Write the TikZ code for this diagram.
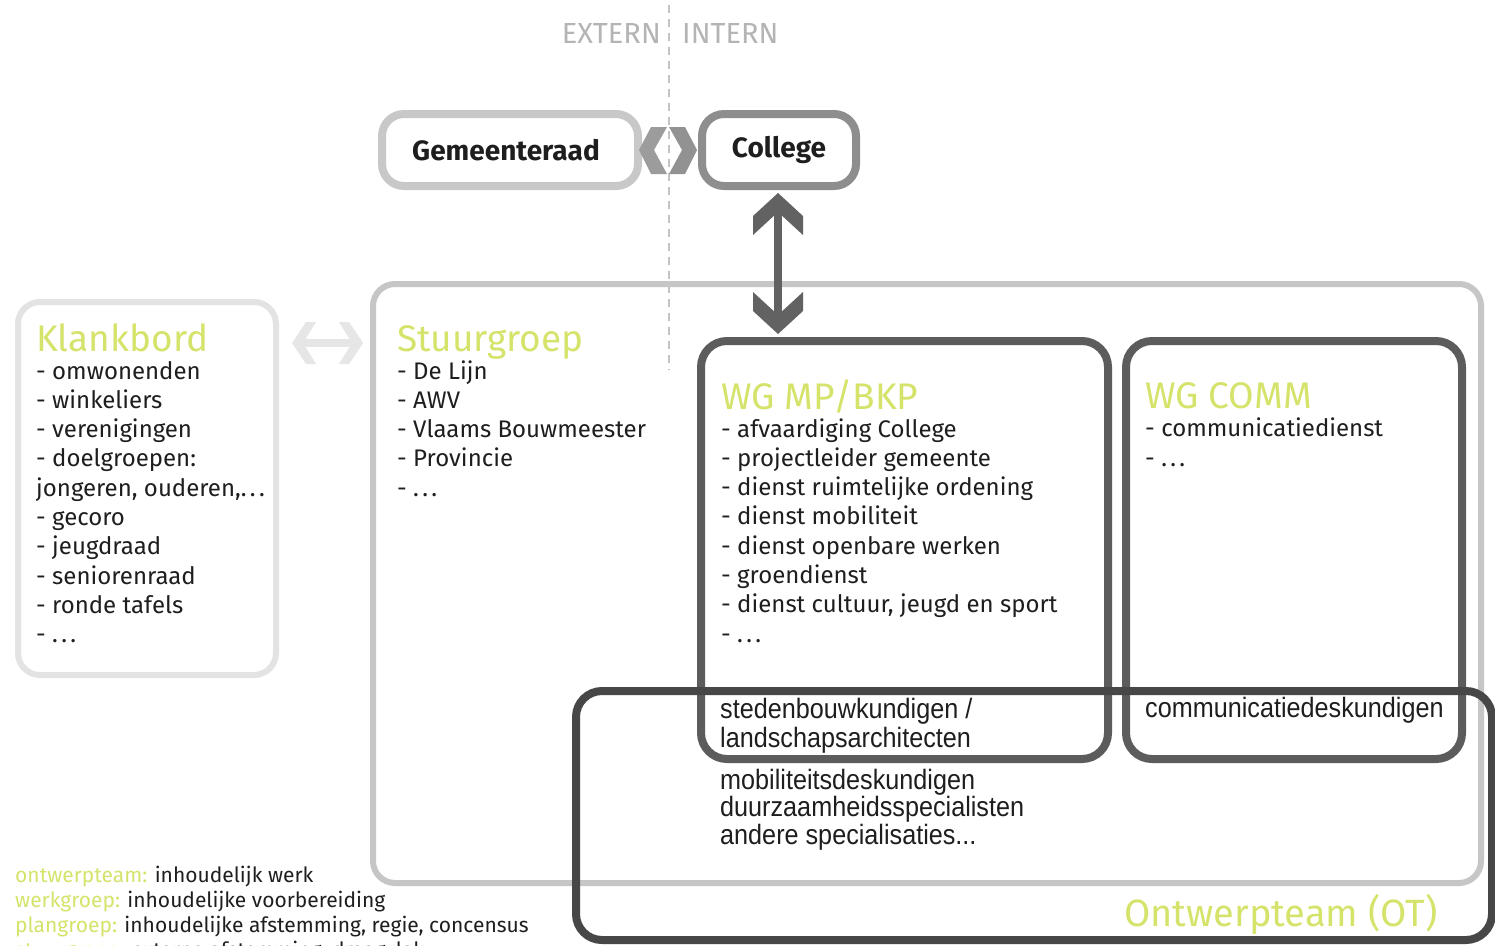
\documentclass[tikz,border=0pt]{standalone}
\usepackage{fontspec}
\setmainfont{Fira Sans}
\newfontfamily\narrowfont[FakeStretch=0.9]{Liberation Sans}
\usetikzlibrary{calc}
\definecolor{lime}{HTML}{D6E36A}
\definecolor{paleline}{HTML}{E3E3E3}
\definecolor{lightline}{HTML}{C6C6C6}
\definecolor{gemline}{HTML}{C8C8C8}
\definecolor{colline}{HTML}{8E8E8E}
\definecolor{wgline}{HTML}{5C5C5C}
\definecolor{otline}{HTML}{474747}
\definecolor{chevron}{HTML}{9C9C9C}
\definecolor{arrowdark}{HTML}{626262}
\definecolor{palearrow}{HTML}{E6E6E6}
\definecolor{sidetext}{HTML}{B4B4B4}
\definecolor{ink}{HTML}{1E1E1E}
\newcommand\ddd{.\hspace{0.14em}.\hspace{0.14em}.}
\tikzset{
  frame/.style={draw, rounded corners=22pt, inner sep=0pt, fill=none},
  item/.style={anchor=base west, inner sep=0pt, text=ink,
    font=\fontsize{24}{28}\selectfont},
  heading/.style={anchor=base west, inner sep=0pt, text=lime,
    font=\fontsize{37}{40}\selectfont},
  expert/.style={anchor=base west, inner sep=0pt, text=ink,
    font=\narrowfont\fontsize{28}{30}\selectfont},
  legend/.style={anchor=base west, inner sep=0pt, text=ink,
    font=\fontsize{21}{24}\selectfont},
  titletext/.style={inner sep=0pt, text=ink,
    font=\bfseries\fontsize{28}{30}\selectfont},
  sidelabel/.style={inner sep=0pt, text=sidetext,
    font=\fontsize{29}{30}\selectfont},
}
\begin{document}
\begin{tikzpicture}[x=1pt,y=-1pt]
\useasboundingbox[fill=white] (0,0) rectangle (1495,945);

% extern / intern divider
\coordinate (divtop) at (669,5);
\coordinate (divbot) at (669,370);
\draw[sidetext!80, line width=2pt, dash pattern=on 8pt off 6pt] (divtop) -- (divbot);
\node[sidelabel, anchor=east] (extern) at (661,34) {EXTERN};
\node[sidelabel, anchor=west] (intern) at (682,34) {INTERN};

% large frames
\node[frame, draw=lightline, line width=6pt, minimum width=1108pt, minimum height=599pt] (stuur) at (927,583.5) {};
\node[frame, draw=paleline, line width=6pt, minimum width=258pt, minimum height=373pt] (klank) at (147,488.5) {};
\node[frame, draw=wgline, line width=8pt, rounded corners=26pt, minimum width=407pt, minimum height=418pt] (wgmp) at (904.5,550) {};
\node[frame, draw=wgline, line width=8pt, rounded corners=26pt, minimum width=336pt, minimum height=418pt] (wgcomm) at (1294,550) {};
\node[frame, draw=otline, line width=8pt, rounded corners=26pt, minimum width=916pt, minimum height=249pt] (ot) at (1034,815.5) {};

% top boxes
\node[frame, draw=gemline, line width=8pt, minimum width=256pt, minimum height=72pt] (gem) at (510,150) {};
\node[titletext] (gemtxt) at (506,150) {Gemeenteraad};
\node[frame, draw=colline, line width=8pt, minimum width=154pt, minimum height=72pt] (col) at (779,150) {};
\node[titletext] (coltxt) at (779,150) {College};

% chevrons between Gemeenteraad and College
\fill[chevron] ($(gem.east)+(-3,0)$) -- ++(12,-23) -- ++(16,0) -- ++(-13,23) -- ++(13,24) -- ++(-16,0) -- cycle;
\fill[chevron!110] ($(col.west)+(-1,0)$) -- ++(-12,-23) -- ++(-16,0) -- ++(13,23) -- ++(-13,24) -- ++(16,0) -- cycle;

% double arrow College <-> WG MP/BKP
\coordinate (atop) at ($(col.south)+(-1,3)$);
\coordinate (abot) at ($(col.south |- wgmp.north)+(-1,-3)$);
\draw[arrowdark, line width=8pt] ($(atop)+(0,18)$) -- ($(abot)+(0,-18)$);
\fill[arrowdark] (atop) -- ++(25,23) -- ++(0,19) -- ++(-25,-23) -- ++(-25,23) -- ++(0,-19) -- cycle;
\fill[arrowdark] (abot) -- ++(25,-23) -- ++(0,-19) -- ++(-25,23) -- ++(-25,-23) -- ++(0,19) -- cycle;

% pale double arrow Klankbord <-> Stuurgroep
\coordinate (pl) at (292,343);
\coordinate (pr) at (363,343);
\draw[palearrow, line width=8pt] ($(pl)+(8,0)$) -- ($(pr)+(-8,0)$);
\fill[palearrow] (pl) -- ++(14,-21) -- ++(10,0) -- ++(-13,21) -- ++(13,21) -- ++(-10,0) -- cycle;
\fill[palearrow] (pr) -- ++(-14,-21) -- ++(-10,0) -- ++(13,21) -- ++(-13,21) -- ++(10,0) -- cycle;

% Klankbord
\node[heading] (klankh) at (36,351) {Klankbord};
\foreach \t [count=\i] in {- omwonenden, - winkeliers, - verenigingen, - doelgroepen:,
  {jongeren, ouderen,\ddd}, - gecoro, - jeugdraad, - seniorenraad, - ronde tafels, - \ddd}
  \node[item] (k\i) at (36,{379+29.3*(\i-1)}) {\t};

% Stuurgroep
\node[heading] (stuurh) at (397,351) {Stuurgroep};
\foreach \t [count=\i] in {- De Lijn, - AWV, - Vlaams Bouwmeester, - Provincie, - \ddd}
  \node[item] (s\i) at (397,{379+29.3*(\i-1)}) {\t};

% WG MP/BKP
\node[heading] (wgmph) at (721,409) {WG MP/BKP};
\foreach \t [count=\i] in {- afvaardiging College, - projectleider gemeente,
  - dienst ruimtelijke ordening, - dienst mobiliteit, - dienst openbare werken,
  - groendienst, {- dienst cultuur, jeugd en sport}, - \ddd}
  \node[item] (w\i) at (721,{437+29.3*(\i-1)}) {\t};

% WG COMM
\node[heading] (wgcommh) at (1145,408) {WG COMM};
\node[item] (c1) at (1145,436) {- communicatiedienst};
\node[item] (c2) at (1145,466) {- \ddd};

% Ontwerpteam
\node[expert] (e1) at (720,718) {stedenbouwkundigen /};
\node[expert] (e2) at (720,747) {landschapsarchitecten};
\node[expert] (e3) at (1145,717) {communicatiedeskundigen};
\node[expert] (e4) at (720,789) {mobiliteitsdeskundigen};
\node[expert] (e5) at (720,816) {duurzaamheidsspecialisten};
\node[expert] (e6) at (720,844) {andere specialisaties...};
\node[heading, anchor=base east, font=\fontsize{38}{40}\selectfont] (oth) at (1438,926) {Ontwerpteam (OT)};

% legend
\node[legend] (l1) at (15,882) {\textcolor{lime}{ontwerpteam:} inhoudelijk werk};
\node[legend] (l2) at (15,907) {\textcolor{lime}{werkgroep:} inhoudelijke voorbereiding};
\node[legend] (l3) at (15,932) {\textcolor{lime}{plangroep:} inhoudelijke afstemming, regie, concensus};
\node[legend] (l4) at (15,957) {\textcolor{lime}{stuurgroep:} externe afstemming, draagvlak};
\end{tikzpicture}
\end{document}
